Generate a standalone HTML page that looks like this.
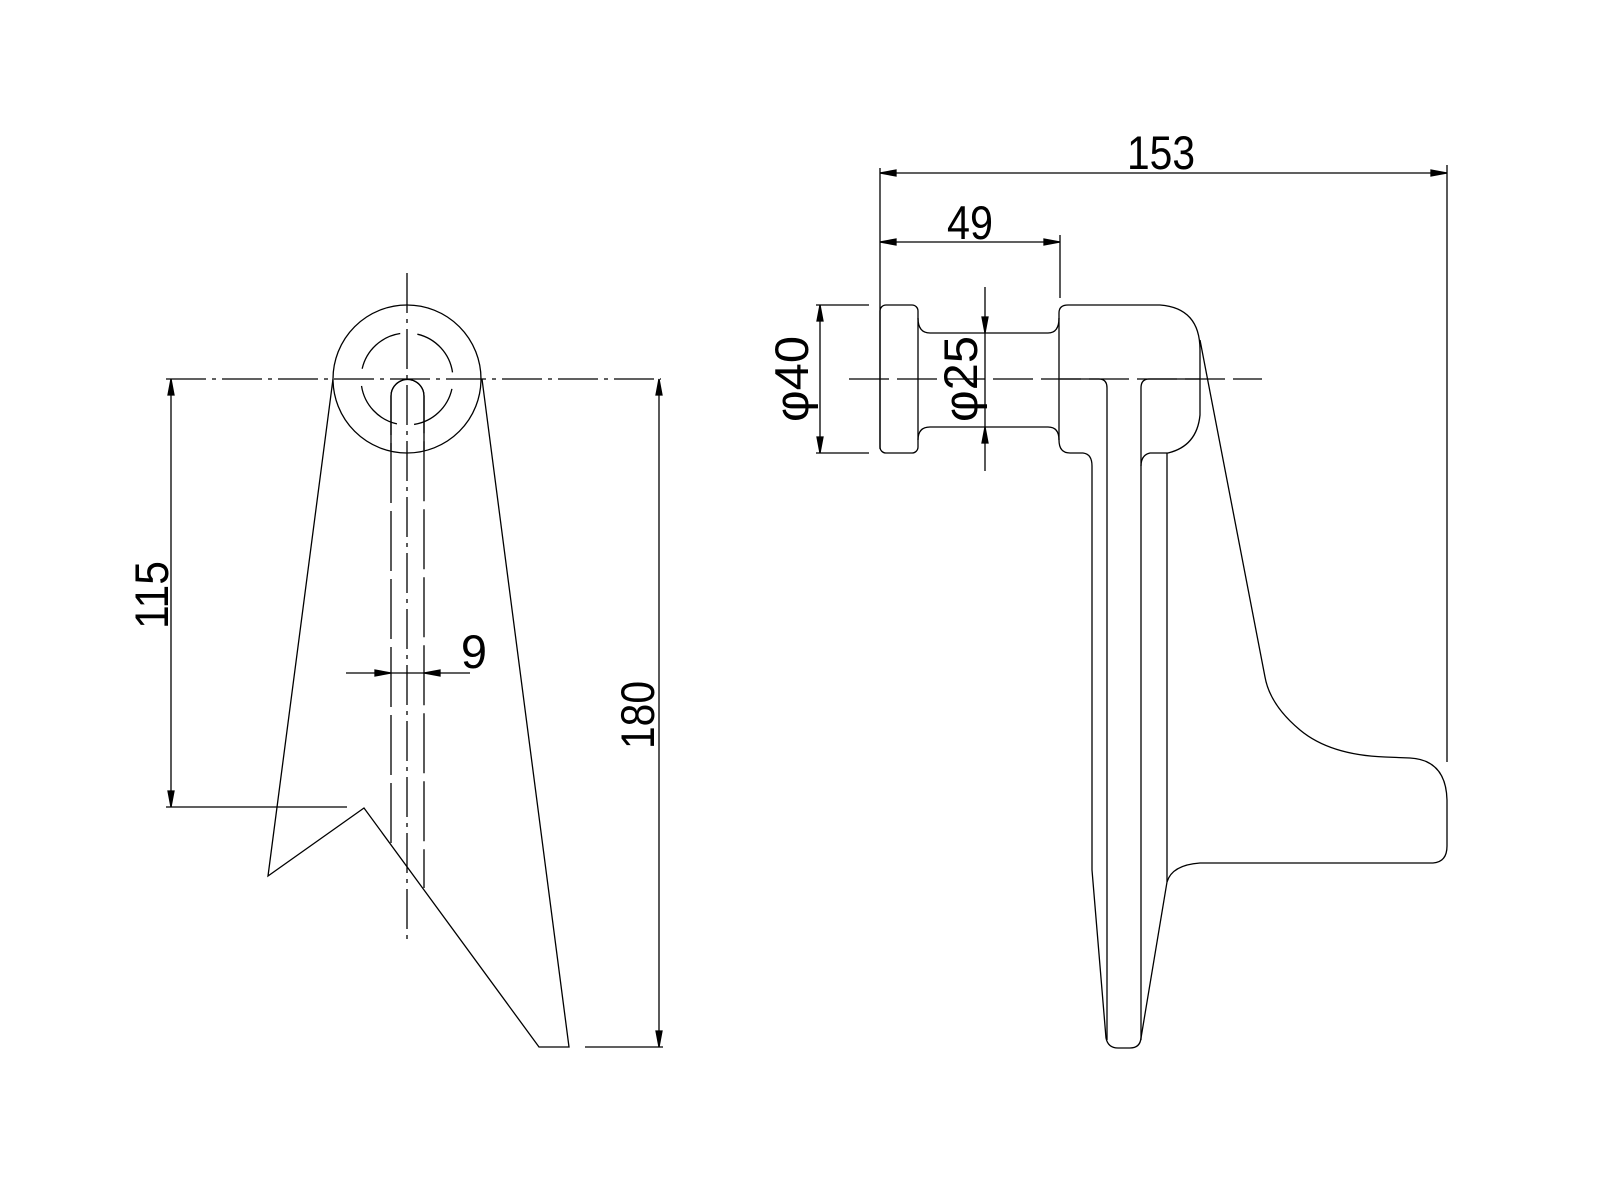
<!DOCTYPE html>
<html><head><meta charset="utf-8"><style>html,body{margin:0;padding:0;background:#fff}svg{display:block}</style></head>
<body>
<svg width="1600" height="1200" viewBox="0 0 1600 1200" xmlns="http://www.w3.org/2000/svg">
<g fill="none" stroke="#000" stroke-width="1.3">
<!-- LEFT VIEW -->
<line x1="407" y1="273" x2="407" y2="943" stroke-dasharray="40,6,4,6"/>
<line x1="166" y1="379" x2="661" y2="379" stroke-dasharray="40,6,4,6"/>
<circle cx="407" cy="379" r="74"/>
<circle cx="407" cy="379" r="46" stroke-dasharray="55,17.3" stroke-dashoffset="-10"/>
<path d="M391,843 L391,396 A16,16 0 0 1 424,396 L424,888" stroke-dasharray="60,8"/>
<path d="M391,396 A16,16 0 0 1 424,396 L424,450 M391,396 L391,450"/>
<path d="M333,379 L268,876 L364,808 L539,1047 L569,1047 L482,379"/>
<!-- 115 -->
<line x1="166" y1="807" x2="347" y2="807"/>
<line x1="171" y1="379" x2="171" y2="807"/>
<path d="M171,379 l-3,16 l6,0 z M171,807 l-3,-16 l6,0 z" fill="#000"/>
<!-- 180 -->
<line x1="585" y1="1047" x2="663" y2="1047"/>
<line x1="659" y1="379" x2="659" y2="1047"/>
<path d="M659,379 l-3,16 l6,0 z M659,1047 l-3,-16 l6,0 z" fill="#000"/>
<!-- 9 -->
<line x1="346" y1="673" x2="470" y2="673"/>
<path d="M391,673 l-16,-3 l0,6 z M424,673 l16,-3 l0,6 z" fill="#000"/>

<!-- RIGHT VIEW -->
<line x1="849" y1="379" x2="1262" y2="379" stroke-dasharray="40,8"/>
<rect x="880" y="305" width="38" height="148" rx="6"/>
<path d="M918,318 Q918,333 930,333 L1048,333 Q1059,333 1059,318"/>
<path d="M918,440 Q918,427 930,427 L1048,427 Q1059,427 1059,440"/>
<path d="M1059,318 L1059,313 Q1059,305 1068,305 L1160,305 Q1200,308 1200,350 L1200,415 Q1197,446 1168,453 L1150,453 Q1141,455 1141,466"/>
<path d="M1059,318 L1059,440 Q1059,453 1070,453 L1083,453 Q1092,454 1092,466 L1092,870 L1106,1038 Q1108,1048 1118,1048 L1130,1048 Q1140,1048 1141,1038 L1167,882 Q1172,865 1200,863 L1433,863 Q1447,862 1447,846 L1447,800 Q1446,760 1410,758 L1385,757 Q1330,755 1300,730 Q1270,705 1265,677 L1200,340"/>
<line x1="1167" y1="453" x2="1167" y2="882"/>
<path d="M1060,379 L1099,379 Q1107,379 1107,388 L1107,1040"/>
<path d="M1200,379 L1149,379 Q1141,379 1141,388 L1141,1040"/>
<!-- 153 -->
<line x1="880" y1="168" x2="880" y2="449"/>
<line x1="1447" y1="165" x2="1447" y2="762"/>
<line x1="880" y1="173" x2="1447" y2="173"/>
<path d="M880,173 l16,-3 l0,6 z M1447,173 l-16,-3 l0,6 z" fill="#000"/>
<!-- 49 -->
<line x1="1060" y1="235" x2="1060" y2="298"/>
<line x1="880" y1="242" x2="1060" y2="242"/>
<path d="M880,242 l16,-3 l0,6 z M1060,242 l-16,-3 l0,6 z" fill="#000"/>
<!-- phi40 -->
<line x1="816" y1="305" x2="869" y2="305"/>
<line x1="816" y1="453" x2="869" y2="453"/>
<line x1="820" y1="305" x2="820" y2="453"/>
<path d="M820,305 l-3,16 l6,0 z M820,453 l-3,-16 l6,0 z" fill="#000"/>
<!-- phi25 -->
<line x1="985" y1="287" x2="985" y2="471"/>
<path d="M985,333 l-3,-16 l6,0 z M985,427 l-3,16 l6,0 z" fill="#000"/>
</g>
<g font-family="Liberation Sans, sans-serif" font-size="47" fill="#000" text-anchor="middle">
<text x="1161" y="169" textLength="68" lengthAdjust="spacingAndGlyphs">153</text>
<text x="970" y="239" textLength="46" lengthAdjust="spacingAndGlyphs">49</text>
<text x="474" y="668">9</text>
<text transform="translate(168,595) rotate(-90)" textLength="68" lengthAdjust="spacingAndGlyphs">115</text>
<text transform="translate(654,715) rotate(-90)" textLength="68" lengthAdjust="spacingAndGlyphs">180</text>
<text transform="translate(808,379) rotate(-90)" textLength="86" lengthAdjust="spacingAndGlyphs">φ40</text>
<text transform="translate(977,379) rotate(-90)" textLength="86" lengthAdjust="spacingAndGlyphs">φ25</text>
</g>
</svg>
</body></html>
